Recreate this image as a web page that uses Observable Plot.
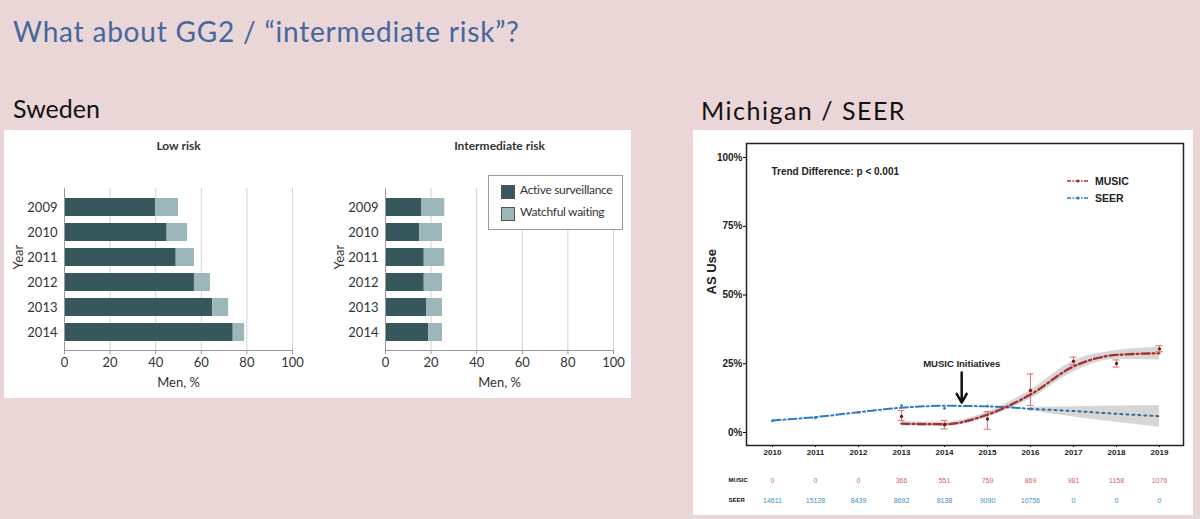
<!DOCTYPE html>
<html><head><meta charset="utf-8">
<script src="https://cdn.jsdelivr.net/npm/d3@7"></script>
<script src="https://cdn.jsdelivr.net/npm/@observablehq/plot@0.6"></script>
<style>
body{margin:0;}
#slide{position:relative;width:1200px;height:519px;background:#ead6d6;overflow:hidden;font-family:Lato,sans-serif;}
.abs{position:absolute;line-height:1;white-space:nowrap;}
.panel{position:absolute;background:#fff;}
</style></head><body>
<div id="slide">
  <div class="abs" style="left:13px;top:17px;font-size:28px;letter-spacing:0.8px;color:#44679f;">What about GG2 / “intermediate risk”?</div>
  <div class="abs" style="left:13px;top:96px;font-size:25px;color:#111;">Sweden</div>
  <div class="abs" style="left:701px;top:98px;font-size:25px;letter-spacing:1.5px;color:#111;">Michigan / SEER</div>
  <div class="panel" style="left:4px;top:130px;width:627px;height:268px;"></div>
  <div class="panel" style="left:693px;top:130px;width:500px;height:385px;"></div>
  <div id="low" class="abs" style="left:5px;top:130px;"></div>
  <div id="int" class="abs" style="left:310px;top:130px;"></div>
  <div id="us" class="abs" style="left:693px;top:130px;"></div>
  <div id="swLegend" class="abs" style="left:488px;top:175px;width:133px;height:53px;border:1px solid #999;background:#fff;font-size:12px;letter-spacing:-0.3px;color:#333;"></div>
  <div id="usLegend" class="abs" style="left:1066px;top:173px;font-family:'Liberation Sans',Arial,sans-serif;font-weight:bold;font-size:10.5px;color:#222;"></div>
</div>
<script>
// ---------- Sweden data ----------
const years = [2009, 2010, 2011, 2012, 2013, 2014];
const lowAS = [40, 45, 49, 57, 65, 74];
const lowWW = [10, 9, 8, 7, 7, 5];
const intAS = [16, 15, 17, 17, 18, 19];
const intWW = [10, 10, 9, 8, 7, 6];
const types = ["Active surveillance", "Watchful waiting"];
const typeColors = ["#36575b", "#9db6ba"];
const menTicks = [0, 20, 40, 60, 80, 100];

// ---------- Michigan / SEER data ----------
const usYears = [2010, 2011, 2012, 2013, 2014, 2015, 2016, 2017, 2018, 2019];
const musicN = [0, 0, 0, 366, 551, 759, 869, 981, 1158, 1076];
const seerN = [14611, 15128, 8439, 8692, 8138, 9090, 10756, 0, 0, 0];
const seerFitYears = [2010, 2011, 2012, 2013, 2014, 2015, 2016];
const seerFit = [4.4, 5.6, 7.4, 9.0, 9.7, 9.5, 8.6];
const seerObs = [4.2, 5.3, 7.3, 9.8, 8.8, 9.6, 8.5];
const seerProjYears = [2016, 2017, 2018, 2019];
const seerProj = [8.6, 7.8, 6.8, 5.9];
const seerProjLo = [8.0, 5.6, 3.7, 1.9];
const seerProjHi = [9.2, 9.4, 9.6, 9.8];
const musicYears = [2013, 2014, 2015, 2016, 2017, 2018, 2019];
const musicFit = [3.2, 3.0, 6.5, 13.8, 24.0, 28.2, 28.8];
const musicFitLo = [2.4, 2.3, 5.5, 12.2, 22.0, 26.6, 26.4];
const musicFitHi = [4.0, 3.8, 7.5, 15.4, 26.0, 29.8, 31.0];
const musicObs = [5.8, 2.8, 4.9, 15.3, 25.9, 25.1, 30.4];
const musicObsLo = [4.4, 1.3, 1.2, 9.8, 24.6, 23.8, 29.4];
const musicObsHi = [8.0, 4.4, 7.6, 21.3, 27.4, 26.4, 31.6];
const pctTicks = [0, 25, 50, 75, 100];
const initiativeYear = 2014.4;
const initiativeLabelY = 25;
const initiativeArrowFrom = 21.8;
const initiativeArrowTo = 10.9;

const darkRed = "#a82d2d", lightRed = "#d77c7c", blue = "#2b7cc2";

function swedenChart(title, as, ww, width, ml, mr) {
  const data = [];
  years.forEach((y, i) => {
    data.push({year: String(y), type: types[0], v: as[i]});
    data.push({year: String(y), type: types[1], v: ww[i]});
  });
  return Plot.plot({
    width, height: 268,
    marginLeft: ml, marginRight: mr, marginTop: 58, marginBottom: 48,
    style: {fontFamily: "Lato, sans-serif", fontSize: "12.5px", color: "#333", background: "transparent", overflow: "visible"},
    x: {domain: [0, 100]},
    y: {domain: years.map(String), padding: 0.3},
    color: {domain: types, range: typeColors},
    marks: [
      Plot.gridX({ticks: menTicks.slice(1), stroke: "#d4d4d4", strokeOpacity: 1}),
      Plot.barX(data, Plot.stackX({x: "v", y: "year", fill: "type"})),
      Plot.ruleX([0], {stroke: "#999"}),
      Plot.frame({anchor: "bottom", stroke: "#999"}),
      Plot.axisX({ticks: menTicks, tickSize: 4, tickPadding: 3, stroke: "#999", fill: "#333", fontSize: 13, label: null}),
      Plot.text(["Men, %"], {frameAnchor: "bottom", dy: 32, lineAnchor: "middle", fontSize: 13, fill: "#333"}),
      Plot.axisY({tickSize: 0, tickPadding: 7, fontSize: 13, fill: "#333", label: null}),
      Plot.text(["Year"], {frameAnchor: "left", dx: -46, rotate: -90, fontSize: 13, fill: "#333"}),
      Plot.text([title], {frameAnchor: "top", dy: -42, lineAnchor: "middle", fontWeight: "bold", fontSize: 12, fill: "#333"})
    ]
  });
}

document.getElementById("low").append(swedenChart("Low risk", lowAS, lowWW, 305, 59, 18));
document.getElementById("int").append(swedenChart("Intermediate risk", intAS, intWW, 320, 75, 17));

// Sweden legend
document.getElementById("swLegend").innerHTML = types.map((t, i) =>
  `<div style="position:absolute;left:12px;top:${9 + i * 22}px;width:12px;height:12px;background:${typeColors[i]};border:1px solid #555;"></div>` +
  `<div style="position:absolute;left:31px;top:${8 + i * 22}px;">${t}</div>`).join("");

// US chart
const seerFitData = seerFitYears.map((y, i) => ({year: y, v: seerFit[i], obs: seerObs[i]}));
const seerProjData = seerProjYears.map((y, i) => ({year: y, v: seerProj[i], lo: seerProjLo[i], hi: seerProjHi[i]}));
const musicData = musicYears.map((y, i) => ({year: y, v: musicFit[i], lo: musicFitLo[i], hi: musicFitHi[i], obs: musicObs[i], olo: musicObsLo[i], ohi: musicObsHi[i]}));
const curve = "monotone-x";

const us = Plot.plot({
  width: 500, height: 385,
  marginLeft: 53, marginRight: 10, marginTop: 13, marginBottom: 70,
  insetLeft: 26, insetRight: 24, insetTop: 14, insetBottom: 13,
  style: {fontFamily: "'Liberation Sans', Arial, sans-serif", background: "transparent", overflow: "visible"},
  x: {domain: [2010, 2019]},
  y: {domain: [0, 100]},
  marks: [
    Plot.areaY(seerProjData, {x: "year", y1: "lo", y2: "hi", fill: "#d2d2d2", fillOpacity: 0.9, curve}),
    Plot.areaY(musicData, {x: "year", y1: "lo", y2: "hi", fill: "#d2d2d2", fillOpacity: 0.9, curve}),
    Plot.line(seerFitData, {x: "year", y: "v", stroke: blue, strokeWidth: 2, strokeDasharray: "8,3,2,3", curve}),
    Plot.line(seerProjData, {x: "year", y: "v", stroke: "#2f6b9c", strokeWidth: 2, strokeDasharray: "2,4", curve}),
    Plot.dot(seerFitData, {x: "year", y: "obs", r: 1.4, fill: blue}),
    Plot.ruleX(musicData, {x: "year", y1: "olo", y2: "ohi", stroke: lightRed, strokeWidth: 1.1}),
    Plot.ruleY(musicData, {x1: d => d.year - 0.08, x2: d => d.year + 0.08, y: "olo", stroke: lightRed, strokeWidth: 1.1}),
    Plot.ruleY(musicData, {x1: d => d.year - 0.08, x2: d => d.year + 0.08, y: "ohi", stroke: lightRed, strokeWidth: 1.1}),
    Plot.line(musicData, {x: "year", y: "v", stroke: darkRed, strokeWidth: 2.3, strokeDasharray: "8,3,2,3", curve}),
    Plot.dot(musicData, {x: "year", y: "obs", r: 1.7, fill: "#7a1a1a"}),
    Plot.frame({stroke: "#222", strokeWidth: 1.5}),
    Plot.axisY({ticks: pctTicks, tickFormat: d => d + "%", tickSize: 3, tickPadding: 1, fontWeight: "bold", fontSize: 10, fill: "#222", label: null}),
    Plot.text(["AS Use"], {frameAnchor: "left", dx: -35, rotate: -90, fontWeight: "bold", fontSize: 13, fill: "#222"}),
    Plot.axisX({ticks: usYears, tickFormat: "d", tickSize: 2, tickPadding: 2, fontWeight: "bold", fontSize: 8, fill: "#222", label: null}),
    Plot.text(["Trend Difference: p < 0.001"], {frameAnchor: "top-left", dx: 25, dy: 28, textAnchor: "start", lineAnchor: "middle", fontWeight: "bold", fontSize: 10, fill: "#222"}),
    Plot.text([{x: initiativeYear, y: initiativeLabelY}], {x: "x", y: "y", text: () => "MUSIC Initiatives", fontWeight: "bold", fontSize: 9.5, fill: "#222"}),
    Plot.arrow([{x: initiativeYear, y1: initiativeArrowFrom, y2: initiativeArrowTo}], {x1: "x", x2: "x", y1: "y1", y2: "y2", stroke: "#111", strokeWidth: 2.5, headLength: 9}),
    Plot.text(usYears, {x: d => d, text: (d, i) => String(musicN[i]), frameAnchor: "bottom", dy: 35, lineAnchor: "middle", fontSize: 7, fill: "#d06464"}),
    Plot.text(usYears, {x: d => d, text: (d, i) => String(seerN[i]), frameAnchor: "bottom", dy: 55, lineAnchor: "middle", fontSize: 7, fill: "#3d8fc6"}),
    Plot.text(["MUSIC"], {frameAnchor: "bottom-left", dx: -18, dy: 35, lineAnchor: "middle", fontSize: 6, fontWeight: "bold", fill: "#111"}),
    Plot.text(["SEER"], {frameAnchor: "bottom-left", dx: -18, dy: 55, lineAnchor: "middle", fontSize: 6, fontWeight: "bold", fill: "#111"})
  ]
});
document.getElementById("us").append(us);

// US legend
const legItems = [["MUSIC", darkRed], ["SEER", blue]];
document.getElementById("usLegend").innerHTML = legItems.map(([n, c], i) =>
  `<div style="position:absolute;left:0;top:${i * 17}px;width:80px;height:14px;">` +
  `<svg width="24" height="14" style="position:absolute;left:0;top:0"><line x1="1" x2="23" y1="8" y2="8" stroke="${c}" stroke-width="1.6" stroke-dasharray="4,1.5,1.5,1.5"/><circle cx="12" cy="8" r="1.6" fill="${c}"/></svg>` +
  `<span style="position:absolute;left:29px;top:3px;">${n}</span></div>`).join("");
</script>
</body></html>
